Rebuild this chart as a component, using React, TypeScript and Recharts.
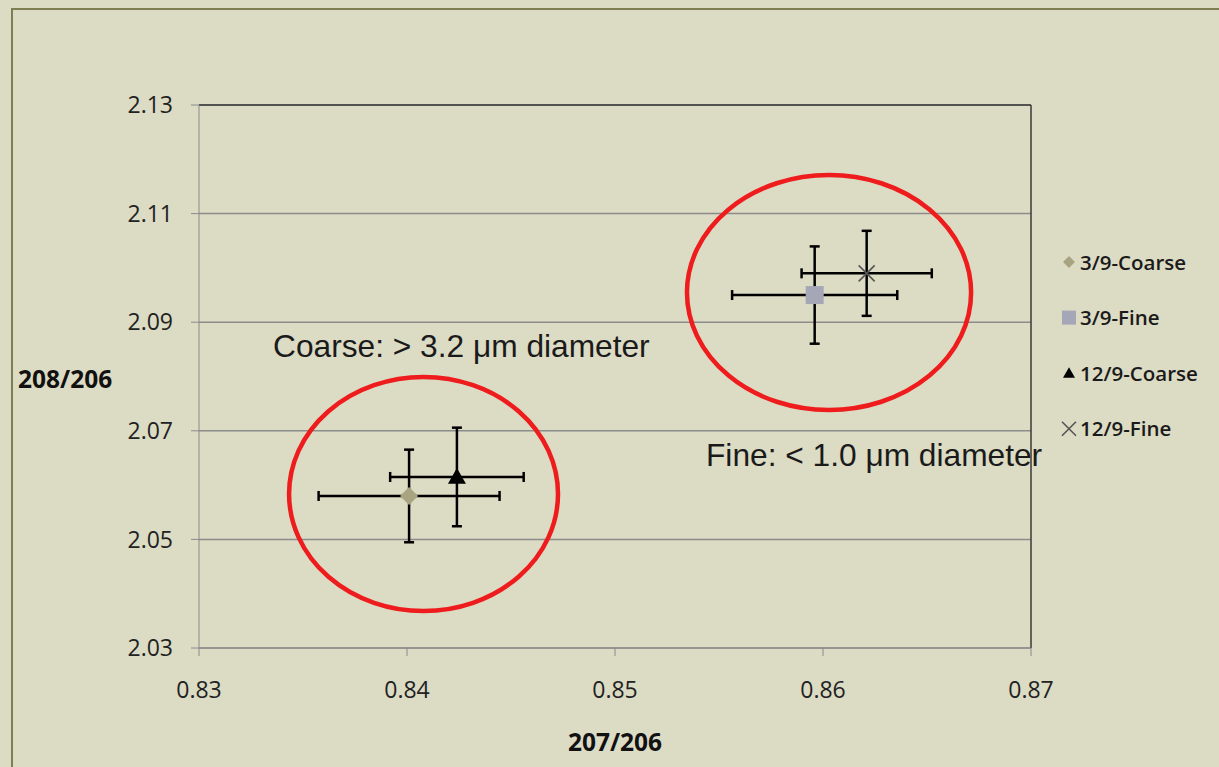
import React from 'react';
import {
  ScatterChart,
  Scatter,
  XAxis,
  YAxis,
  CartesianGrid,
  ErrorBar,
  ReferenceArea,
  ReferenceLine,
  Customized,
} from 'recharts';

// isotope ratio measurements, one point per sample
const seriesNames = ['3/9-Coarse', '3/9-Fine', '12/9-Coarse', '12/9-Fine'];
const ratio207 = [0.8401, 0.8596, 0.8424, 0.8621];
const ratio208 = [2.0580, 2.0950, 2.0615, 2.0990];
const err207 = [0.00435, 0.00397, 0.00321, 0.00313];
const err208 = [0.00853, 0.00896, 0.00908, 0.00783];

const xTicks = [0.83, 0.84, 0.85, 0.86, 0.87];
const yTicks = [2.03, 2.05, 2.07, 2.09, 2.11, 2.13];

// group outlines in data units: [x1, x2, y1, y2]
const groupCoarse = [0.83433, 0.84726, 2.03681, 2.07991];
const groupFine = [0.85346, 0.86712, 2.07383, 2.11711];

const BG = '#dcdbc4';
const TICK_FONT = '"Open Sans", sans-serif';

const rows = seriesNames.map((name, i) => [
  { name, x: ratio207[i], y: ratio208[i], xErr: err207[i], yErr: err208[i] },
]);

const Diamond = ({ cx, cy, s = 9 }: any) => (
  <path d={`M${cx},${cy - s}L${cx + s},${cy}L${cx},${cy + s}L${cx - s},${cy}Z`} fill="#a8a482" />
);
const Square = ({ cx, cy, s = 9 }: any) => (
  <rect x={cx - s} y={cy - s} width={s * 2} height={s * 2} fill="#a5a7b7" />
);
const Triangle = ({ cx, cy, s = 9 }: any) => (
  <path d={`M${cx},${cy - s}L${cx + s},${cy + s * 0.75}L${cx - s},${cy + s * 0.75}Z`} fill="#000" />
);
const Cross = ({ cx, cy, s = 8 }: any) => (
  <path
    d={`M${cx - s},${cy - s}L${cx + s},${cy + s}M${cx + s},${cy - s}L${cx - s},${cy + s}`}
    stroke="#555"
    strokeWidth={1.6}
    fill="none"
  />
);
const markers = [Diamond, Square, Triangle, Cross];
const legendSizes = [6, 7, 6, 7];

const ellipseShape = (p: any) => (
  <ellipse
    cx={p.x + p.width / 2}
    cy={p.y + p.height / 2}
    rx={p.width / 2}
    ry={p.height / 2}
    fill="none"
    stroke="#ee1c1c"
    strokeWidth={4.5}
  />
);

const Annotations = () => (
  <g>
    <text x={273} y={357} fontFamily='"Liberation Sans", Arial, sans-serif' fontSize={31.7} fill="#1a1a1a">
      Coarse: &gt; 3.2 μm diameter
    </text>
    <text x={706} y={466} fontFamily='"Liberation Sans", Arial, sans-serif' fontSize={31.7} fill="#1a1a1a">
      Fine: &lt; 1.0 μm diameter
    </text>
    <text x={18} y={388} fontFamily={TICK_FONT} fontWeight={700} fontSize={24.5} fill="#111">
      208/206
    </text>
    <text x={615} y={751} textAnchor="middle" fontFamily={TICK_FONT} fontWeight={700} fontSize={24.5} fill="#111">
      207/206
    </text>
    {seriesNames.map((name, i) => {
      const Mark = markers[i];
      const cy = 262 + i * 55.6;
      return (
        <g key={name}>
          <Mark cx={1069} cy={cy} s={legendSizes[i]} />
          <text x={1080} y={cy + 7.5} fontFamily={TICK_FONT} fontWeight={600} fontSize={20.5} fill="#1a1a1a">
            {name}
          </text>
        </g>
      );
    })}
  </g>
);

export default function App() {
  return (
    <div
      style={{
        position: 'absolute',
        left: 0,
        top: 0,
        width: 1219,
        height: 767,
        background: BG,
        overflow: 'hidden',
      }}
    >
      <div
        style={{
          position: 'absolute',
          left: 11,
          top: 8,
          width: 1400,
          height: 1000,
          border: '2px solid #7f7d52',
        }}
      />
      <div style={{ position: 'absolute', left: 0, top: 0 }}>
        <ScatterChart width={1219} height={767} margin={{ top: 105, right: 188, bottom: 79, left: 139 }}>
          <CartesianGrid horizontal vertical={false} stroke="#8c8c8c" strokeWidth={1.5} />
          <XAxis
            type="number"
            dataKey="x"
            domain={[0.83, 0.87]}
            ticks={xTicks}
            tickFormatter={(v: number) => v.toFixed(2)}
            height={40}
            tickSize={8}
            tickMargin={26}
            stroke="#8a8a8a"
            tick={{ fontFamily: TICK_FONT, fontSize: 23, fill: '#222' }}
            allowDataOverflow
          />
          <YAxis
            type="number"
            dataKey="y"
            domain={[2.03, 2.13]}
            ticks={yTicks}
            tickFormatter={(v: number) => v.toFixed(2)}
            width={60}
            tickSize={8}
            tickMargin={18}
            stroke="#8a8a8a"
            tick={{ fontFamily: TICK_FONT, fontSize: 23, fill: '#222' }}
            allowDataOverflow
          />
          <ReferenceLine y={2.13} stroke="#3a3a3a" strokeWidth={1.5} />
          <ReferenceLine x={0.87} stroke="#3a3a3a" strokeWidth={1.5} />
          <ReferenceArea
            x1={groupCoarse[0]}
            x2={groupCoarse[1]}
            y1={groupCoarse[2]}
            y2={groupCoarse[3]}
            shape={ellipseShape}
          />
          <ReferenceArea
            x1={groupFine[0]}
            x2={groupFine[1]}
            y1={groupFine[2]}
            y2={groupFine[3]}
            shape={ellipseShape}
          />
          {/* error bars first, so the symbols sit on top of them */}
          {rows.map((data, i) => (
            <Scatter
              key={`err-${seriesNames[i]}`}
              name={seriesNames[i]}
              data={data}
              isAnimationActive={false}
              legendType="none"
              shape={() => <g />}
            >
              <ErrorBar dataKey="xErr" direction="x" stroke="#000" strokeWidth={2.5} width={5} isAnimationActive={false} />
              <ErrorBar dataKey="yErr" direction="y" stroke="#000" strokeWidth={2.5} width={5} isAnimationActive={false} />
            </Scatter>
          ))}
          {rows.map((data, i) => {
            const Mark = markers[i];
            return (
              <Scatter
                key={seriesNames[i]}
                name={seriesNames[i]}
                data={data}
                isAnimationActive={false}
                zIndex={2000}
                shape={(p: any) => <Mark cx={p.cx} cy={p.cy} />}
              />
            );
          })}
          <Customized component={<Annotations />} />
        </ScatterChart>
      </div>
    </div>
  );
}
